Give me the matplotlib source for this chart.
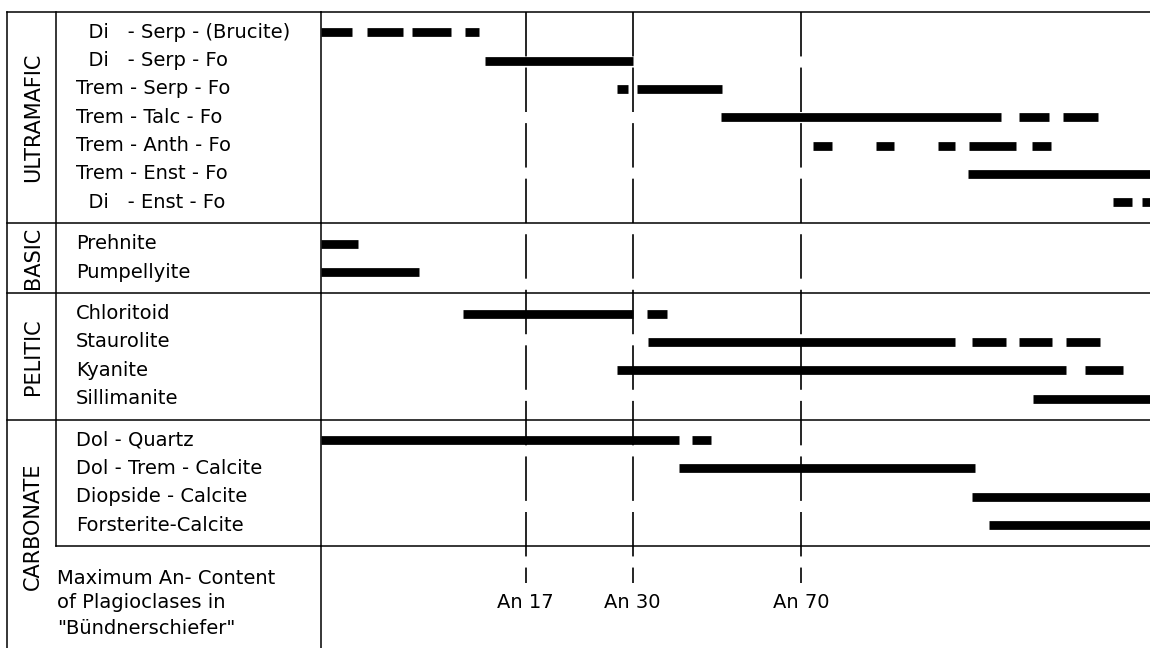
import matplotlib
matplotlib.use("Agg")
import matplotlib.pyplot as plt

plt.rcParams['font.family'] = ['DejaVu Sans']
plt.rcParams['lines.scale_dashes'] = False

# grade scale: 0 = left edge of the chart, 100 = right edge
groups = ["ULTRAMAFIC", "BASIC", "PELITIC", "CARBONATE"]

ultramafic = ["  Di   - Serp - (Brucite)", "  Di   - Serp - Fo", "Trem - Serp - Fo",
              "Trem - Talc - Fo", "Trem - Anth - Fo", "Trem - Enst - Fo", "  Di   - Enst - Fo"]
ultramafic_ranges = [
    [(0.0, 3.7), (5.5, 9.9), (11.0, 15.7), (17.4, 19.1)],
    [(19.8, 37.6)],
    [(35.7, 37.0), (38.1, 48.4)],
    [(48.3, 82.0), (84.2, 87.8), (89.5, 93.7)],
    [(59.3, 61.6), (66.9, 69.1), (74.4, 76.5), (78.2, 83.8), (85.8, 88.1)],
    [(78.0, 100.0)],
    [(95.5, 97.8), (99.0, 100.0)],
]

basic = ["Prehnite", "Pumpellyite"]
basic_ranges = [
    [(0.0, 4.5)],
    [(0.0, 11.8)],
]

pelitic = ["Chloritoid", "Staurolite", "Kyanite", "Sillimanite"]
pelitic_ranges = [
    [(17.1, 37.6), (39.3, 41.7)],
    [(39.4, 76.5), (78.5, 82.6), (84.2, 88.2), (89.9, 94.0)],
    [(35.7, 89.9), (92.2, 96.7)],
    [(85.9, 100.0)],
]

carbonate = ["Dol - Quartz", "Dol - Trem - Calcite", "Diopside - Calcite", "Forsterite-Calcite"]
carbonate_ranges = [
    [(0.0, 43.2), (44.8, 47.0)],
    [(43.2, 78.9)],
    [(78.5, 100.0)],
    [(80.6, 100.0)],
]

an_pos = [24.7, 37.6, 57.9]
an_labels = ["An 17", "An 30", "An 70"]

footer = 'Maximum An- Content\nof Plagioclases in\n"Bündnerschiefer"'

all_labels = [ultramafic, basic, pelitic, carbonate]
all_ranges = [ultramafic_ranges, basic_ranges, pelitic_ranges, carbonate_ranges]

# layout (vertical units are pixels below the top rule)
W, H, TOP = 1150, 648, 12
LAB_R = 321
pitch = 28.3
ybot = H - TOP

fig = plt.figure(figsize=(W / 100, H / 100), dpi=100)
ax_lab = fig.add_axes([0, 0, LAB_R / W, ybot / H])
ax = fig.add_axes([LAB_R / W, 0, (W - LAB_R) / W, ybot / H])
ax_lab.set_xlim(0, LAB_R)
for a in (ax_lab, ax):
    a.set_ylim(ybot, 0)
    a.axis("off")
ax.set_xlim(0, 100)

lw_rule = 1.1
fs = 14
gfs = 15

y0 = 0
bounds = [0]
for g, labels, ranges in zip(groups, all_labels, all_ranges):
    for k, (lab, segs) in enumerate(zip(labels, ranges)):
        y = y0 + 0.72 * pitch + k * pitch
        ax_lab.text(76, y, lab, fontsize=fs, va="center", ha="left")
        for x1, x2 in segs:
            ax.plot([x1, x2], [y, y], color="black", lw=6.3,
                    solid_capstyle="butt", clip_on=False)
    y1 = y0 + (len(labels) + 0.47) * pitch
    if g == "CARBONATE":
        ax_lab.text(33, 514, g, rotation=90, fontsize=gfs, ha="center", va="center")
    else:
        ax_lab.text(33, (y0 + y1) / 2, g, rotation=90, fontsize=gfs,
                    ha="center", va="center")
    bounds.append(y1)
    y0 = y1

# rules
for i, b in enumerate(bounds):
    x_start = 56 if i == len(bounds) - 1 else 6.5
    ax_lab.plot([x_start, LAB_R], [b, b], color="black", lw=lw_rule, clip_on=False)
    ax.axhline(b, color="black", lw=lw_rule, clip_on=False)
ax_lab.plot([6.5, 6.5], [0, ybot], color="black", lw=lw_rule, clip_on=False)
ax_lab.plot([56, 56], [0, bounds[-1]], color="black", lw=lw_rule, clip_on=False)
ax_lab.plot([LAB_R, LAB_R], [0, ybot], color="black", lw=lw_rule, clip_on=False)

# An reference lines
for xp, lab in zip(an_pos, an_labels):
    ax.plot([xp, xp], [0, 571], color="black", lw=1.2, dashes=(32, 8))
    ax.text(xp, 591, lab, fontsize=fs, ha="center", va="center")

ax_lab.text(57, 591, footer, fontsize=fs, ha="left", va="center", linespacing=1.4)

fig.savefig("out.png", dpi=100)
